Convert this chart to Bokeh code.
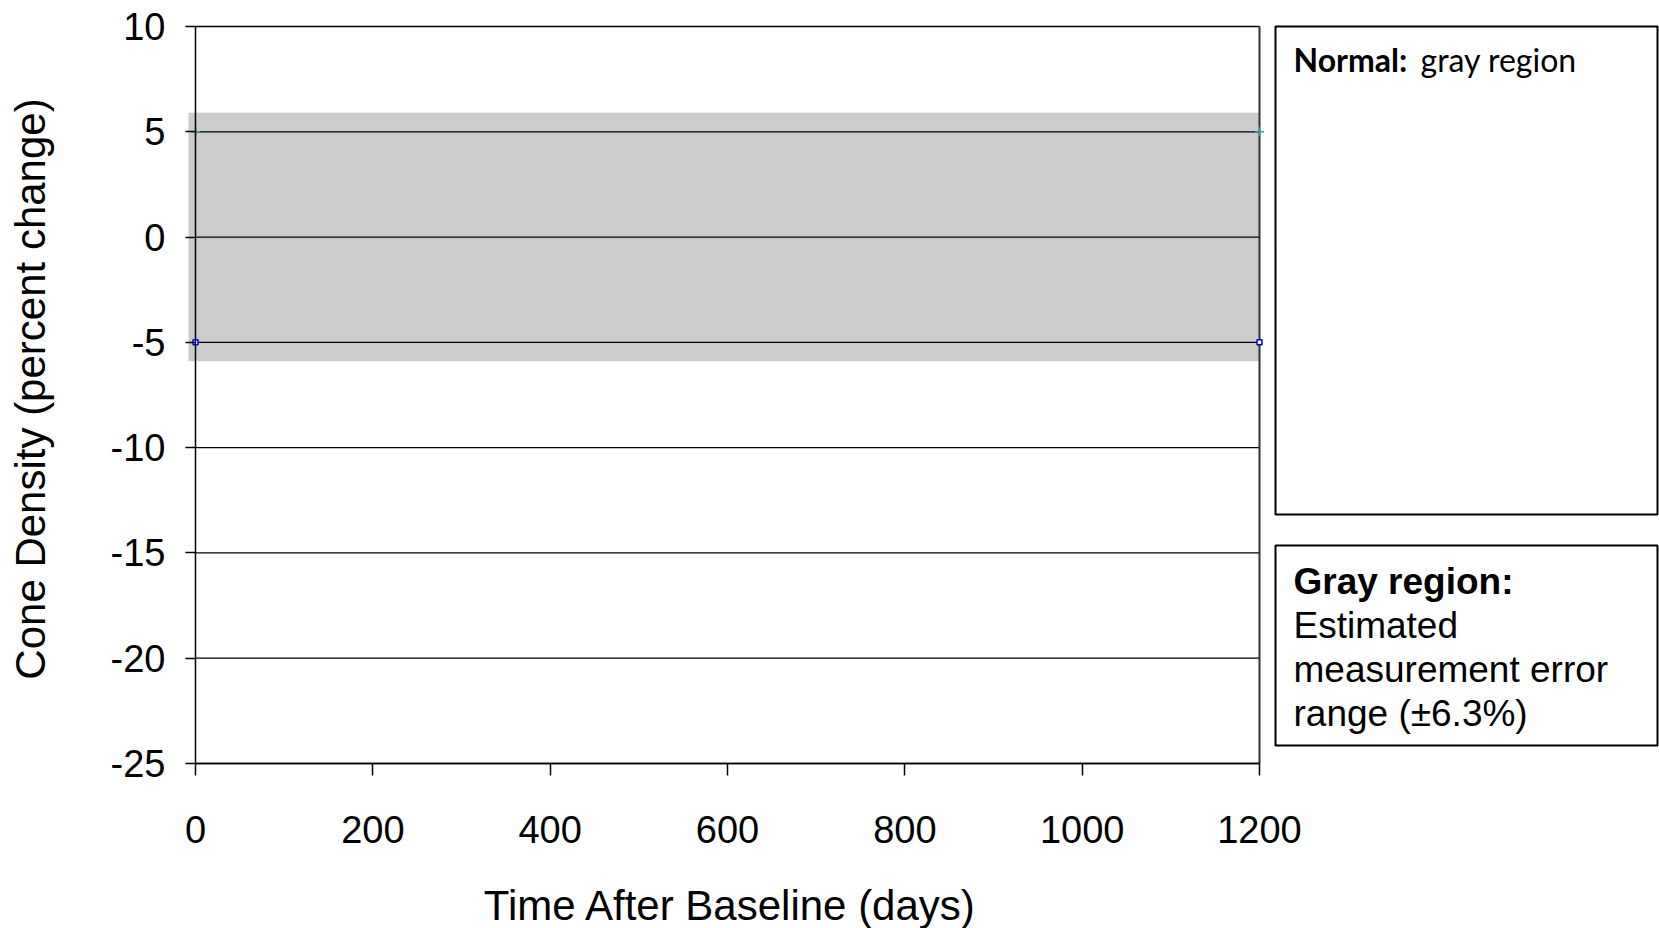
import math
from bokeh.plotting import figure
from bokeh.models import Range1d, FixedTicker
from bokeh.core.properties import value
from bokeh.embed import file_html
from bokeh.resources import INLINE

# ---- data ----
x_ticks = [0, 200, 400, 600, 800, 1000, 1200]
x_tick_labels = ["0", "200", "400", "600", "800", "1000", "1200"]
y_ticks = [10, 5, 0, -5, -10, -15, -20, -25]
y_tick_labels = ["10", "5", "0", "-5", "-10", "-15", "-20", "-25"]

band_x = [-8, 1200]
band_upper = [5.9, 5.9]
band_lower = [-5.9, -5.9]

upper_x = [0, 1200]
upper_y = [5, 5]
lower_x = [0, 1200]
lower_y = [-5, -5]

x_title = "Time After Baseline (days)"
y_title = "Cone Density (percent change)"
note1_bold = "Normal:"
note1_text = "gray region"
note2_bold = "Gray region:"
note2_lines = ["Estimated", "measurement error", "range (±6.3%)"]

FONT = "Liberation Sans"

# ---- layout geometry (canvas pixels) ----
W, H = 1659, 928
PL, PR, PT, PB = 195, 1259, 26, 763      # pixel positions of x=0, x=1200, y=10, y=-25
X0, X1, Y0, Y1 = 0, 1200, -25, 10


def dx(px):
    return X0 + (px - PL) / (PR - PL) * (X1 - X0)


def dy(py):
    return Y1 - (py - PT) / (PB - PT) * (Y1 - Y0)


# the frame covers the whole canvas; axes are pinned at the data edges
p = figure(width=W, height=H, x_range=Range1d(dx(0), dx(W)), y_range=Range1d(dy(H), dy(0)),
           output_backend="svg", toolbar_location=None,
           min_border_left=0, min_border_right=0, min_border_top=0, min_border_bottom=0)
p.outline_line_color = None
p.background_fill_color = "white"
p.border_fill_color = "white"
p.grid.visible = False

# gray measurement-error band
p.varea(x=band_x, y1=band_lower, y2=band_upper, fill_color="#CCCCCC")

# horizontal grid lines at every y tick, limited to the data area
p.segment(x0=[X0] * len(y_ticks), x1=[X1] * len(y_ticks), y0=y_ticks, y1=y_ticks,
          line_color="black", line_width=1.3)
# right border of the data area
p.segment(x0=[X1], x1=[X1], y0=[Y0], y1=[Y1], line_color="#333333", line_width=2)

p.scatter(upper_x, upper_y, marker="cross", size=9, line_color="#2E9E9E", line_width=1.5)
p.scatter(lower_x, lower_y, marker="square", size=5, line_color="#0000FF",
          fill_color="white", line_width=1.5)

for ax, ticks, labels, tout in ((p.xaxis[0], x_ticks, x_tick_labels, 12),
                                (p.yaxis[0], y_ticks, y_tick_labels, 10)):
    ax.ticker = FixedTicker(ticks=ticks)
    ax.major_label_overrides = {t: l for t, l in zip(ticks, labels)}
    ax.minor_tick_line_color = None
    ax.major_tick_in = 0
    ax.major_tick_out = tout
    ax.axis_line_color = "black"
    ax.axis_line_width = 1.5
    ax.major_tick_line_color = "black"
    ax.major_tick_line_width = 1.5
    ax.major_label_text_font = FONT
    ax.major_label_text_font_size = "38px"
    ax.major_label_text_color = "black"

p.xaxis.bounds = (X0, X1)
p.xaxis.fixed_location = Y0
p.xaxis.major_label_standoff = 40
p.yaxis.bounds = (Y0, Y1)
p.yaxis.fixed_location = X0
p.yaxis.major_label_standoff = 20
p.yaxis.major_label_orientation = "horizontal"

# axis titles
p.text(x=[dx(730)], y=[dy(905)], text=[x_title], text_font=value(FONT),
       text_font_size=value("42px"), text_align="center", text_baseline="alphabetic",
       text_color="black")
p.text(x=[dx(30)], y=[dy(388.5)], text=[y_title], angle=math.pi / 2, text_font=value(FONT),
       text_font_size=value("42px"), text_align="center", text_baseline="alphabetic",
       text_color="black")

# ---- note boxes on the right ----
p.quad(left=[dx(1275), dx(1275)], right=[dx(1657), dx(1657)],
       top=[dy(26), dy(545)], bottom=[dy(514), dy(745)],
       fill_color="white", line_color="black", line_width=2)

p.text(x=[dx(1293)], y=[dy(59)], text=[note1_bold], text_font=value("Lato"),
       text_font_size=value("32px"), text_font_style="bold", text_baseline="alphabetic",
       text_color="black")
p.text(x=[dx(1420)], y=[dy(59)], text=[note1_text], text_font=value("Lato"),
       text_font_size=value("32px"), text_baseline="alphabetic", text_color="black")

p.text(x=[dx(1293)], y=[dy(581)], text=[note2_bold], text_font=value(FONT),
       text_font_size=value("37px"), text_font_style="bold", text_baseline="alphabetic",
       text_color="black")
p.text(x=[dx(1293)] * 3, y=[dy(625), dy(669), dy(713)], text=note2_lines, text_font=value(FONT),
       text_font_size=value("37px"), text_baseline="alphabetic", text_color="black")

open("out.html", "w").write(file_html(p, INLINE))
